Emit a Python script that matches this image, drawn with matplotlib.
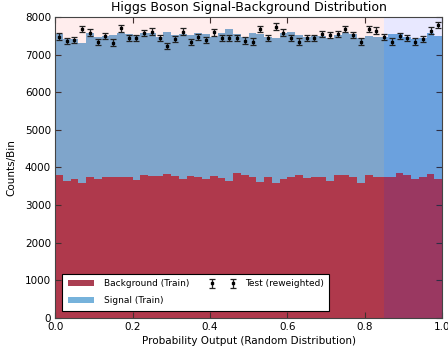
import matplotlib
matplotlib.use("Agg")
import matplotlib.pyplot as plt
import numpy as np

# 50 bins over the probability output
bin_edges = np.linspace(0.0, 1.0, 51)

background = [3793, 3650, 3686, 3588, 3757, 3695, 3739, 3739, 3757, 3739,
              3668, 3801, 3775, 3775, 3819, 3775, 3704, 3775, 3757, 3686,
              3775, 3713, 3650, 3854, 3801, 3757, 3624, 3739, 3597, 3704,
              3739, 3801, 3721, 3739, 3757, 3650, 3801, 3793, 3739, 3588,
              3793, 3757, 3739, 3757, 3854, 3793, 3704, 3757, 3836, 3686]

# top of the stacked histogram (background + signal)
total = [7541, 7408, 7408, 7319, 7568, 7461, 7497, 7515, 7568, 7541,
         7523, 7577, 7568, 7479, 7595, 7515, 7541, 7515, 7568, 7541,
         7479, 7577, 7675, 7541, 7479, 7568, 7541, 7479, 7435, 7568,
         7611, 7523, 7479, 7497, 7497, 7435, 7523, 7584, 7550, 7435,
         7497, 7479, 7479, 7541, 7541, 7479, 7408, 7435, 7568, 7506]

test = [7479, 7364, 7390, 7675, 7584, 7337, 7497, 7319, 7701, 7435,
        7435, 7568, 7611, 7435, 7231, 7408, 7611, 7337, 7461, 7390,
        7593, 7435, 7435, 7435, 7372, 7345, 7675, 7435, 7745, 7584,
        7435, 7345, 7435, 7435, 7541, 7523, 7541, 7675, 7523, 7345,
        7675, 7639, 7461, 7345, 7497, 7435, 7345, 7408, 7639, 7789]

signal = np.array(total) - np.array(background)
centers = 0.5 * (bin_edges[:-1] + bin_edges[1:])
widths = np.diff(bin_edges)

cut = 0.85

fig = plt.figure(figsize=(4.48, 3.53), dpi=100)
ax = fig.add_axes([0.123, 0.099, 0.864, 0.853])

ax.bar(bin_edges[:-1], background, width=widths, align="edge",
       color="#aa3e52", linewidth=0, label="Background (Train)", zorder=1)
ax.bar(bin_edges[:-1], signal, bottom=background, width=widths, align="edge",
       color="#76b2db", linewidth=0, label="Signal (Train)", zorder=1)

ax.axvspan(0.0, cut, color="red", alpha=0.07, linewidth=0, zorder=2)
ax.axvspan(cut, 1.0, color="blue", alpha=0.09, linewidth=0, zorder=2)

ax.errorbar(centers, test, yerr=np.sqrt(test), fmt="s", color="black",
            markersize=1.8, elinewidth=0.9, capsize=2.5, capthick=0.9,
            ecolor="#222222", label="Test (reweighted)", zorder=3)

ax.set_xlim(0, 1)
ax.set_ylim(0, 8000)
ax.set_xticks([0.0, 0.2, 0.4, 0.6, 0.8, 1.0])
ax.set_yticks(range(0, 8001, 1000))
ax.tick_params(direction="in", top=True, right=True, labelsize=7.5,
               length=4, color="#333333", pad=3)
for s in ax.spines.values():
    s.set_color("#444444")

ax.set_title("Higgs Boson Signal-Background Distribution", fontsize=9, pad=4)
ax.set_xlabel("Probability Output (Random Distribution)", fontsize=7.5,
              labelpad=3)
ax.set_ylabel("Counts/Bin", fontsize=7.5, labelpad=6)

leg = ax.legend(loc="lower left", ncol=2, fontsize=6.5, numpoints=2,
                fancybox=False, framealpha=1, edgecolor="black",
                borderaxespad=0.8, columnspacing=2.2, handlelength=2.9,
                handletextpad=1.1, labelspacing=0.9, borderpad=0.6)
leg.get_frame().set_linewidth(0.8)

fig.savefig("out.png", dpi=100)
